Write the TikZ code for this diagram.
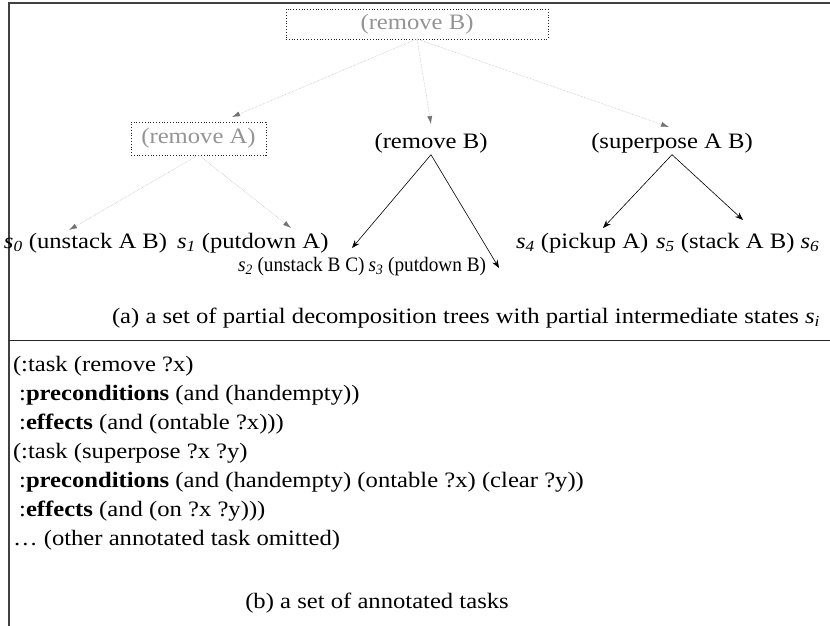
\documentclass[tikz,border=0pt]{standalone}
\usepackage{fontspec}
\usepackage{graphicx}
\setmainfont{Liberation Serif}[FakeStretch=1.12]
\usetikzlibrary{arrows.meta}
\newcommand{\st}[1]{\textit{s}\textsubscript{\itshape #1}}
\begin{document}
\begin{tikzpicture}[x=1pt,y=-1pt,
  font=\fontsize{22}{29}\selectfont,
  every node/.style={inner sep=0pt, outer sep=0pt},
  gtxt/.style={text=black!42},
  dbox/.style={draw=black!85, dotted, line width=0.8pt},
  garrow/.style={draw=black!30, densely dotted, line width=0.5pt, -{Latex[length=8pt,width=5pt,color=black!55]}},
  barrow/.style={draw=black, line width=0.6pt, -{Stealth[length=8pt,width=6pt]}},
  frame/.style={draw=black!75, line width=1.2pt},
  leaf/.style={anchor=base west},
  leaftwo/.style={anchor=base west, font=\fontsize{20.5}{24}\selectfont},
  code/.style={anchor=base west}]
\useasboundingbox (0,0) rectangle (830,626);
% frame
\draw[frame] (830,3) -- (9,3) -- (9,626);
\draw[draw=black!85, line width=1pt] (9,340) -- (830,340);
% tree nodes
\node[dbox, gtxt, minimum width=262pt, minimum height=30pt] (rb) at (417,24) {(remove B)};
\node[dbox, gtxt, minimum width=135pt, minimum height=33pt] (ra) at (198.5,138.5) {(remove A)};
\node[anchor=base] (rb2) at (431,148) {(remove B)};
\node[anchor=base] (sp) at (672,148) {(superpose A B)};
% leaves
\node[leaf] (l0) at (4,248) {\st{0} (unstack A B)};
\node[leaf] (l1) at (177,248) {\st{1} (putdown A)};
\node[leaf] (l4) at (516,248) {\st{4} (pickup A)};
\node[leaf] (l5) at (656,248) {\st{5} (stack A B) \st{6}};
\node[leaftwo] (l2) at (238,271) {\scalebox{0.84}[1]{\st{2} (unstack B C)}};
\node[leaftwo] (l3) at ([xshift=4pt]l2.base east) {\scalebox{0.84}[1]{\st{3} (putdown B)}};
% arrow end points
\coordinate (e1) at (232,117);
\coordinate (e2) at (431,124);
\coordinate (e3) at (669,127);
\coordinate (f1) at (69,230);
\coordinate (f2) at (291,228);
\coordinate (g1) at (352,248);
\coordinate (g2) at (499,268);
\coordinate (h1) at (603,228);
\coordinate (h2) at (743,220);
\draw[garrow] (rb.south) -- (e1);
\draw[garrow] (rb.south) -- (e2);
\draw[garrow] (rb.south) -- (e3);
\draw[garrow] (ra.south) -- (f1);
\draw[garrow] (ra.south) -- (f2);
\draw[barrow] ([yshift=-2pt]rb2.south) -- (g1);
\draw[barrow] ([yshift=-2pt]rb2.south) -- (g2);
\draw[barrow] ([yshift=-2pt]sp.south) -- (h1);
\draw[barrow] ([yshift=-2pt]sp.south) -- (h2);
% caption a
\node[anchor=base] (capa) at (466,323) {(a) a set of partial decomposition trees with partial intermediate states \st{i}};
% annotated tasks
\node[code] (t1) at (13,371) {(:task (remove ?x)};
\node[code] (t2) at (13,400) {\ :\textbf{preconditions} (and (handempty))};
\node[code] (t3) at (13,429) {\ :\textbf{effects} (and (ontable ?x)))};
\node[code] (t4) at (13,458) {(:task (superpose ?x ?y)};
\node[code] (t5) at (13,487) {\ :\textbf{preconditions} (and (handempty) (ontable ?x) (clear ?y))};
\node[code] (t6) at (13,516) {\ :\textbf{effects} (and (on ?x ?y)))};
\node[code] (t7) at (13,545) {… (other annotated task omitted)};
\node[anchor=base] (capb) at (377,608) {(b) a set of annotated tasks};
\end{tikzpicture}
\end{document}
